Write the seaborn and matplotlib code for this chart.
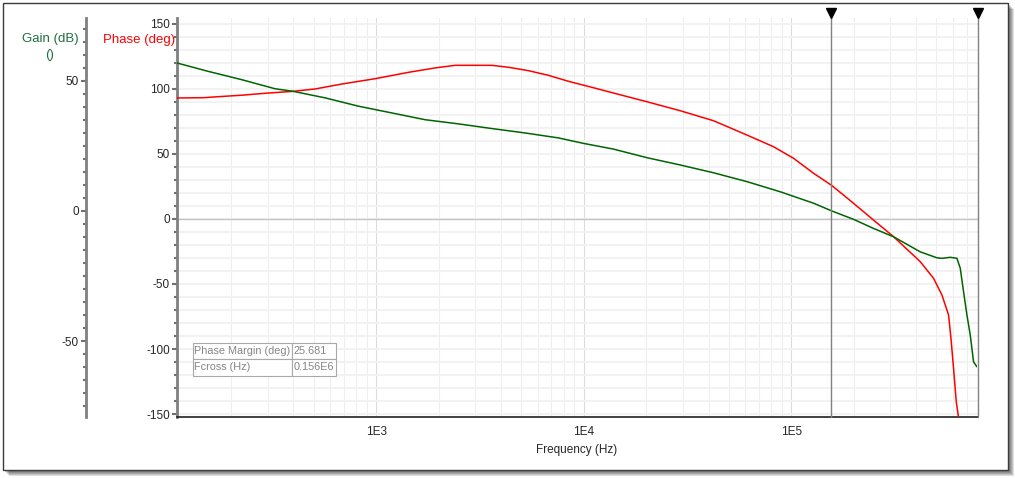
import matplotlib
matplotlib.use("Agg")
import matplotlib.pyplot as plt
import matplotlib.ticker as mticker
from matplotlib.patches import Rectangle
import seaborn as sns

# Data
phase_freq = [110, 147, 187, 225, 292, 399, 508, 683, 989, 1431, 1924, 2403, 3611,
              4342, 5420, 6768, 8448, 10950, 13920, 20170, 29180, 42220, 61160, 82170,
              102600, 128100, 157100, 199600, 249200, 311200, 418500, 485100, 532500,
              573100, 588500, 605700, 624100, 640300]
phase_deg = [93.1, 93.3, 94.4, 95.2, 96.7, 98.2, 100.0, 103.8, 107.9, 112.8, 116.2,
             118.2, 118.2, 116.7, 114.1, 110.5, 105.9, 101.3, 96.9, 90.2, 83.3, 75.6,
             64.6, 55.6, 46.7, 35.2, 25.7, 12.1, -0.8, -13.6, -32.8, -45.6, -58.5,
             -73.8, -91.8, -114.8, -140.5, -152.8]

gain_freq = [110, 155, 225, 326, 399, 568, 822, 1191, 1722, 2492, 3611, 5225, 7560,
             9977, 13920, 20170, 29180, 42220, 61160, 88510, 128100, 157100, 199600,
             249200, 311200, 418500, 503700, 532500, 583900, 628900, 652400, 676700,
             702600, 729000, 756100, 785000]
gain_db = [56.9, 53.7, 50.5, 47.0, 46.0, 43.5, 40.3, 37.7, 35.1, 33.5, 31.7, 30.0,
           28.1, 26.0, 23.8, 20.5, 17.7, 14.7, 11.3, 7.4, 3.0, 0.0, -3.2, -6.7, -9.9,
           -15.7, -18.0, -18.2, -17.8, -18.2, -22.0, -31.0, -40.0, -47.7, -58.0, -59.9]

cursor_freq = [156000, 790000]
table_rows = [["Phase Margin (deg)", "25.681"], ["Fcross (Hz)", "0.156E6"]]
decade_ticks = [1e3, 1e4, 1e5]
decade_labels = ["1E3", "1E4", "1E5"]

GREEN = "#006400"
RED = "#ff0000"

sns.set_style("white")
plt.rcParams["font.family"] = ["Liberation Sans", "DejaVu Sans"]
plt.rcParams["axes.unicode_minus"] = False

W, H = 1015, 478
fig = plt.figure(figsize=(W / 100, H / 100), dpi=100)

# framed panel with a drop shadow
x0, y0 = 3 / W, 1 - 470 / H
fw, fh = 1005 / W, 467 / H
for k in range(6, 0, -1):
    fig.patches.append(Rectangle((x0 + k / W, y0 - k / H), fw, fh, transform=fig.transFigure,
                                 fc="black", ec="none", alpha=0.13, zorder=-20))
fig.patches.append(Rectangle((x0, y0), fw, fh, transform=fig.transFigure,
                             fc="white", ec="#3c3c3c", lw=1.0, zorder=-10))

AX_L, AX_W = 176.7, 800.8
AX_T, AX_H = 18, 399
ax = fig.add_axes([AX_L / W, 1 - (AX_T + AX_H) / H, AX_W / W, AX_H / H])
ax.patch.set_alpha(0)
ax.set_xscale("log")
ax.set_xlim(109.5, 790000)
ax.set_ylim(-152.3, 154.6)

# grid
ax.xaxis.set_minor_locator(mticker.LogLocator(base=10, subs=range(2, 10)))
ax.xaxis.set_minor_formatter(mticker.NullFormatter())
ax.set_xticks(decade_ticks, decade_labels)
ax.yaxis.set_major_locator(mticker.MultipleLocator(50))
ax.yaxis.set_minor_locator(mticker.MultipleLocator(10))
ax.grid(which="major", axis="x", color="#dcdcdc", lw=0.8)
ax.grid(which="minor", axis="x", color="#eeeeee", lw=0.8)
ax.grid(which="both", axis="y", color="#f2f2f2", lw=1.4)
ax.set_axisbelow(True)
ax.axhline(0, color="#c4c4c4", lw=1.0, zorder=1)

sns.lineplot(x=phase_freq, y=phase_deg, ax=ax, color=RED, lw=1.1,
             estimator=None, sort=False, legend=False, zorder=3)

for side in ("top", "right"):
    ax.spines[side].set_visible(False)
ax.spines["left"].set_color("#808080")
ax.spines["left"].set_linewidth(2.0)
ax.spines["bottom"].set_color("#202020")
ax.spines["bottom"].set_linewidth(1.2)
ax.tick_params(axis="y", which="major", direction="out", length=3.5, width=1.5,
               color="#707070", labelsize=8.5, pad=1.5)
ax.tick_params(axis="y", which="minor", direction="out", length=2, width=1.5, color="#707070")
ax.tick_params(axis="x", which="major", direction="out", length=3.5, width=1.0,
               color="#202020", labelsize=8.5, pad=3)
ax.tick_params(axis="x", which="minor", direction="out", length=2.5, width=1.0, color="#202020")
ax.set_xlabel("Frequency (Hz)", fontsize=8.5, labelpad=4)
ax.set_ylabel("")

# gain axis on a detached left spine
ax2 = ax.twinx()
ax2.set_ylim(-79.2, 74.2)
ax2.yaxis.set_ticks_position("left")
ax2.spines["left"].set_position(("axes", (86 - AX_L) / AX_W))
ax2.spines["left"].set_visible(True)
ax2.spines["left"].set_color("#808080")
ax2.spines["left"].set_linewidth(2.0)
for side in ("top", "right", "bottom"):
    ax2.spines[side].set_visible(False)
ax2.yaxis.set_major_locator(mticker.MultipleLocator(50))
ax2.yaxis.set_minor_locator(mticker.MultipleLocator(5))
ax2.tick_params(axis="y", which="major", direction="out", length=3.5, width=1.5,
                color="#707070", labelsize=8.5, pad=1.5)
ax2.tick_params(axis="y", which="minor", direction="out", length=2, width=1.5, color="#707070")
sns.lineplot(x=gain_freq, y=gain_db, ax=ax2, color=GREEN, lw=1.1,
             estimator=None, sort=False, legend=False)
ax2.set_ylabel("")
ax2.set_xlabel("")

# cursors
for f in cursor_freq:
    ax2.axvline(f, color="#808080", lw=1.0, clip_on=False)
    ax2.plot([f], [1.0125], marker="v", color="black", ms=6.5,
             transform=ax2.get_xaxis_transform(), clip_on=False)


# result table, drawn cell by cell in pixel-based axes coordinates
def px(x, y):
    return (x - AX_L) / AX_W, (AX_T + AX_H - y) / AX_H


col_edges = [192.7, 292.0, 335.7]
row_edges = [343.3, 359.4, 375.5]
for r, row in enumerate(table_rows):
    for c, txt in enumerate(row):
        xa, ya = px(col_edges[c], row_edges[r + 1])
        xb, yb = px(col_edges[c + 1], row_edges[r])
        ax2.add_patch(Rectangle((xa, ya), xb - xa, yb - ya, transform=ax2.transAxes,
                                fc="white", ec="#a8a8a8", lw=0.8, zorder=5))
        tx, ty = px(col_edges[c] + 1.2, (row_edges[r] + row_edges[r + 1]) / 2)
        ax2.text(tx, ty, txt, transform=ax2.transAxes, ha="left", va="center",
                 fontsize=7.8, color="#858585", zorder=6)

fig.text(50 / W, 1 - 39 / H, "Gain (dB)", color="#1f7040", fontsize=9.5, ha="center", va="center")
fig.text(50 / W, 1 - 55 / H, "()", color="#1f7040", fontsize=9.5, ha="center", va="center")
fig.text(139 / W, 1 - 40 / H, "Phase (deg)", color=RED, fontsize=9.5, ha="center", va="center")

fig.savefig("out.png", dpi=100)
